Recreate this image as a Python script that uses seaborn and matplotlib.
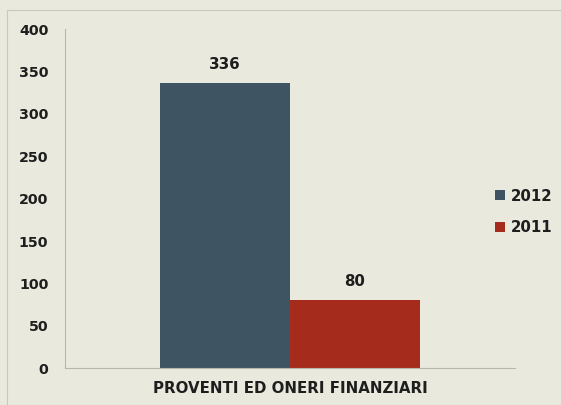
"""
Proventi ed oneri finanziari, 2012 vs 2011.
"""

import pandas as pd
import matplotlib.pyplot as plt
import seaborn as sns

sns.set_theme(style="white")
plt.rcParams["font.family"] = ["DejaVu Sans"]
plt.rcParams["font.weight"] = "bold"

category = ["PROVENTI ED ONERI FINANZIARI"]
years = ["2012", "2011"]
values = [336, 80]

df = pd.DataFrame({
    "voce": category * len(years),
    "anno": years,
    "valore": values,
})

bg = "#EAE9DD"
ink = "#1E1E1E"
colors = {"2012": "#3E5463", "2011": "#A52B1C"}

fig = plt.figure(figsize=(5.61, 4.05), dpi=100, facecolor=bg)
ax = fig.add_axes([0.116, 0.091, 0.802, 0.837])
ax.set_facecolor(bg)

sns.barplot(
    data=df, x="voce", y="valore", hue="anno",
    palette=colors, width=0.578, saturation=1,
    linewidth=0, ax=ax, legend=True
)

for cont in ax.containers:
  ax.bar_label(cont, fmt="%d", padding=8, fontsize=10.8, fontweight="bold",
               color=ink)

ax.set_ylim(0, 400)
ax.set_yticks(range(0, 401, 50))
ax.set_xlim(-0.5, 0.5)
ax.set_xlabel("")
ax.set_ylabel("")
ax.tick_params(axis="y", length=0, pad=12, labelsize=10.3, labelcolor=ink)
ax.tick_params(axis="x", length=0, pad=9, labelsize=10.8, labelcolor=ink)
for lab in ax.get_xticklabels() + ax.get_yticklabels():
  lab.set_fontweight("bold")

for side in ["top", "right"]:
  ax.spines[side].set_visible(False)
for side in ["left", "bottom"]:
  ax.spines[side].set_color("#B8B7AC")
  ax.spines[side].set_linewidth(0.8)

leg = ax.legend(
    loc="center left", bbox_to_anchor=(495 / 561, 1 - 212 / 405),
    bbox_transform=fig.transFigure, borderpad=0, borderaxespad=0,
    frameon=False, handlelength=0.65, handleheight=0.65,
    handletextpad=0.4, labelspacing=1.1,
    prop={"weight": "bold", "size": 10.8}
)
for t in leg.get_texts():
  t.set_color(ink)

border = plt.Rectangle((0.012, 0.0), 0.988, 0.975, transform=fig.transFigure,
                       fill=False, edgecolor="#C9C8BC", linewidth=0.8)
fig.patches.append(border)

fig.savefig("out.png", dpi=100, facecolor=bg)
